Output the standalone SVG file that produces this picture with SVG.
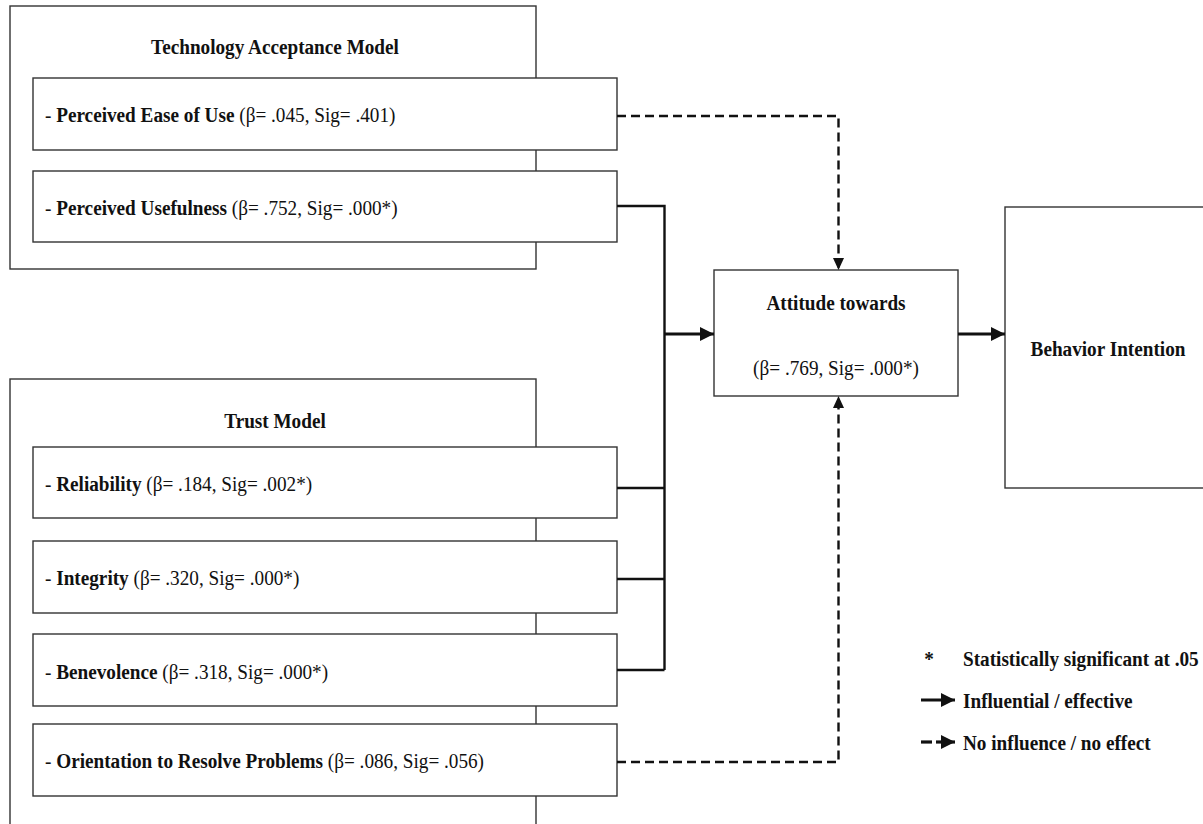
<svg xmlns="http://www.w3.org/2000/svg" width="1203" height="824" viewBox="0 0 1203 824">
<style>
  text { font-family: "Liberation Serif", "Times New Roman", serif; font-size: 21px; fill: #111; }
  .b { font-weight: bold; }
  .m { text-anchor: middle; }
  .box { fill: #fff; stroke: #333; stroke-width: 1.4; }
  .solid { fill: none; stroke: #111; stroke-width: 2.4; }
  .thick { fill: none; stroke: #111; stroke-width: 3.2; }
  .dash { fill: none; stroke: #111; stroke-width: 2.4; stroke-dasharray: 9 5; }
</style>
<defs>
  <marker id="arr" markerUnits="userSpaceOnUse" viewBox="0 0 14 14" markerWidth="14" markerHeight="14" refX="14" refY="7" orient="auto">
    <path d="M0,0 L14,7 L0,14 z" fill="#111"/>
  </marker>
  <marker id="arrs" markerUnits="userSpaceOnUse" viewBox="0 0 12 11" markerWidth="12" markerHeight="11" refX="12" refY="5.5" orient="auto">
    <path d="M0,0 L12,5.5 L0,11 z" fill="#111"/>
  </marker>
</defs>
<rect width="1203" height="824" fill="#fff"/>

<g id="tam">
  <rect class="box" x="10" y="6" width="526" height="263"/>
  <text class="b m" transform="translate(275,54) scale(0.915,1)">Technology Acceptance Model</text>
</g>
<g id="peou">
  <rect class="box" x="33" y="78" width="584" height="72"/>
  <text transform="translate(45,122) scale(0.915,1)">- <tspan class="b">Perceived Ease of Use</tspan> (β= .045, Sig= .401)</text>
</g>
<g id="pu">
  <rect class="box" x="33" y="171" width="584" height="71"/>
  <text transform="translate(45,215) scale(0.915,1)">- <tspan class="b">Perceived Usefulness</tspan> (β= .752, Sig= .000*)</text>
</g>

<g id="trust">
  <rect class="box" x="10" y="379" width="526" height="460"/>
  <text class="b m" transform="translate(275,428) scale(0.915,1)">Trust Model</text>
</g>
<g id="reliability">
  <rect class="box" x="33" y="447" width="584" height="71"/>
  <text transform="translate(45,491) scale(0.915,1)">- <tspan class="b">Reliability</tspan> (β= .184, Sig= .002*)</text>
</g>
<g id="integrity">
  <rect class="box" x="33" y="541" width="584" height="72"/>
  <text transform="translate(45,585) scale(0.915,1)">- <tspan class="b">Integrity</tspan> (β= .320, Sig= .000*)</text>
</g>
<g id="benevolence">
  <rect class="box" x="33" y="634" width="584" height="72"/>
  <text transform="translate(45,679) scale(0.915,1)">- <tspan class="b">Benevolence</tspan> (β= .318, Sig= .000*)</text>
</g>
<g id="orientation">
  <rect class="box" x="33" y="724" width="584" height="72"/>
  <text transform="translate(45,768) scale(0.915,1)">- <tspan class="b">Orientation to Resolve Problems</tspan> (β= .086, Sig= .056)</text>
</g>

<g id="attitude">
  <rect class="box" x="714" y="270" width="244" height="126"/>
  <text class="b m" transform="translate(836,310) scale(0.915,1)">Attitude towards</text>
  <text class="m" transform="translate(836,375) scale(0.915,1)">(β= .769, Sig= .000*)</text>
</g>
<g id="behavior">
  <rect class="box" x="1005" y="207" width="210" height="281"/>
  <text class="b m" transform="translate(1108,356) scale(0.915,1)">Behavior Intention</text>
</g>

<g id="connectors">
  <path class="solid" d="M617,206 H664.5 V670 M617,488 H664.5 M617,579 H664.5 M617,670 H664.5"/>
  <path class="thick" d="M664.5,334 H714" marker-end="url(#arr)"/>
  <path class="thick" d="M958,334 H1005" marker-end="url(#arr)"/>
  <path class="dash" d="M617,116 H838.5 V270" marker-end="url(#arrs)"/>
  <path class="dash" d="M617,762 H838.5 V396" marker-end="url(#arrs)"/>
</g>

<g id="legend">
  <text class="b m" transform="translate(929,666) scale(0.915,1)">*</text>
  <text class="b" transform="translate(963,666) scale(0.915,1)">Statistically significant at .05</text>
  <path class="thick" d="M921,700 H955" marker-end="url(#arr)"/>
  <text class="b" transform="translate(963,708) scale(0.915,1)">Influential / effective</text>
  <path d="M921,742 H932" stroke="#111" stroke-width="3.2"/>
  <path class="thick" d="M936,742 H955" marker-end="url(#arr)"/>
  <text class="b" transform="translate(963,750) scale(0.915,1)">No influence / no effect</text>
</g>
</svg>
